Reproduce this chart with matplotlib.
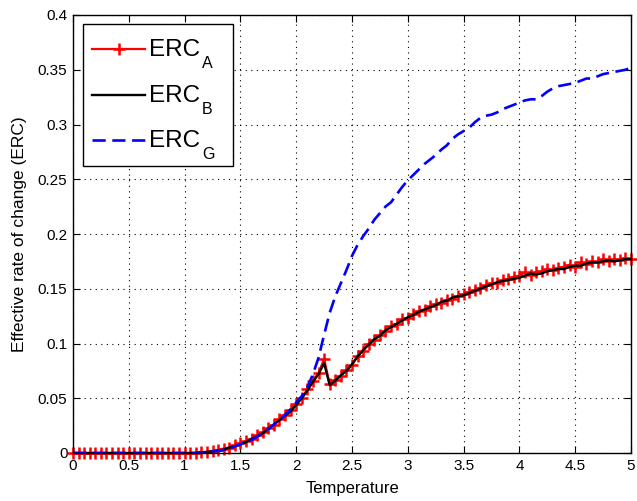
import numpy as np
import matplotlib
matplotlib.use("Agg")
import matplotlib.pyplot as plt
from matplotlib.lines import Line2D
from matplotlib.patches import Rectangle

plt.rcParams['font.family'] = ['Liberation Sans', 'DejaVu Sans']

# temperature grid, step 0.05 from 0 to 5
temperature = [round(0.05 * i, 2) for i in range(101)]

erc_a = [0.0] * 23 + [
    0.0005, 0.001, 0.0015, 0.003, 0.004, 0.005, 0.007, 0.009, 0.011, 0.013,
    0.016, 0.019, 0.023, 0.026, 0.031, 0.035, 0.039, 0.045, 0.050, 0.058,
    0.066, 0.073, 0.086, 0.063, 0.067, 0.070, 0.076, 0.080, 0.089, 0.093,
    0.100, 0.103, 0.108, 0.111, 0.116, 0.118, 0.122, 0.123, 0.127, 0.130,
    0.131, 0.134, 0.136, 0.137, 0.140, 0.141, 0.143, 0.145, 0.147, 0.149,
    0.151, 0.153, 0.155, 0.155, 0.158, 0.159, 0.161, 0.162, 0.165, 0.163,
    0.165, 0.166, 0.168, 0.167, 0.169, 0.170, 0.172, 0.170, 0.174, 0.173,
    0.175, 0.174, 0.177, 0.175, 0.177, 0.176, 0.178, 0.177,
]

erc_b = [0.0] * 23 + [
    0.0005, 0.001, 0.0015, 0.002, 0.003, 0.005, 0.006, 0.008, 0.010, 0.013,
    0.015, 0.018, 0.022, 0.026, 0.030, 0.034, 0.038, 0.044, 0.050, 0.057,
    0.065, 0.072, 0.082, 0.062, 0.066, 0.071, 0.075, 0.081, 0.088, 0.094,
    0.099, 0.104, 0.107, 0.112, 0.115, 0.118, 0.121, 0.124, 0.126, 0.129,
    0.131, 0.133, 0.135, 0.138, 0.139, 0.142, 0.143, 0.144, 0.146, 0.148,
    0.150, 0.152, 0.154, 0.156, 0.157, 0.158, 0.159, 0.160, 0.162, 0.164,
    0.163, 0.164, 0.166, 0.167, 0.168, 0.168, 0.170, 0.171, 0.171, 0.173,
    0.174, 0.174, 0.175, 0.176, 0.175, 0.176, 0.177, 0.177,
]

erc_g = [0.0] * 23 + [
    0.0005, 0.001, 0.0015, 0.002, 0.003, 0.004, 0.006, 0.008, 0.010, 0.012,
    0.015, 0.018, 0.022, 0.026, 0.030, 0.035, 0.040, 0.046, 0.052, 0.060,
    0.072, 0.087, 0.108, 0.128, 0.143, 0.155, 0.167, 0.180, 0.190, 0.198,
    0.205, 0.213, 0.219, 0.225, 0.229, 0.236, 0.243, 0.249, 0.254, 0.259,
    0.264, 0.268, 0.272, 0.277, 0.281, 0.287, 0.291, 0.294, 0.297, 0.302,
    0.306, 0.308, 0.309, 0.311, 0.314, 0.316, 0.318, 0.320, 0.322, 0.323,
    0.323, 0.326, 0.330, 0.333, 0.335, 0.336, 0.337, 0.338, 0.340, 0.342,
    0.342, 0.344, 0.346, 0.347, 0.348, 0.349, 0.350, 0.352,
]

subscripts = ['A', 'B', 'G']
x_ticks = [0, 0.5, 1, 1.5, 2, 2.5, 3, 3.5, 4, 4.5, 5]
y_ticks = [0, 0.05, 0.1, 0.15, 0.2, 0.25, 0.3, 0.35, 0.4]

W, H = 637, 501
fig = plt.figure(figsize=(W / 100, H / 100), dpi=100)
ax = fig.add_axes([73 / W, 1 - 453 / H, 558 / W, 438 / H])

styles = [
    dict(color='red', linewidth=1.6, marker='+', markersize=9,
         markeredgewidth=1.8),
    dict(color='black', linewidth=1.7),
    dict(color='blue', linewidth=1.9, linestyle='--', dashes=(5, 2.5)),
]

ax.plot(temperature, erc_a, clip_on=False, **styles[0])
ax.plot(temperature, erc_b, **styles[1])
ax.plot(temperature, erc_g, **styles[2])

ax.set_xlim(0, 5)
ax.set_ylim(0, 0.4)
ax.set_xticks(x_ticks)
ax.set_yticks(y_ticks)
ax.set_xticklabels(['%g' % t for t in x_ticks])
ax.set_yticklabels(['%g' % t for t in y_ticks])
ax.tick_params(direction='in', top=True, right=True, length=5,
               labelsize=11, pad=4)
ax.grid(True, color='black', linestyle=(0, (1, 4)), linewidth=0.8)
for s in ax.spines.values():
    s.set_linewidth(1.0)
    s.set_zorder(5)

ax.set_xlabel('Temperature', fontsize=12, labelpad=6)
ax.set_ylabel('Effective rate of change (ERC)', fontsize=12.5, labelpad=8)

# legend box drawn by hand so the subscripts can sit low, MATLAB style
def fx(px):
    return px / W

def fy(py):
    return 1 - py / H

fig.add_artist(Rectangle((fx(83), fy(166)), fx(233) - fx(83),
                         fy(24) - fy(166), transform=fig.transFigure,
                         facecolor='white', edgecolor='black',
                         linewidth=1.0, zorder=10))
row_y = [49, 95, 140]
for i, (yy, sub) in enumerate(zip(row_y, subscripts)):
    kw = dict(styles[i])
    handle = Line2D([fx(92), fx(118.5), fx(145)], [fy(yy)] * 3,
                    transform=fig.transFigure, zorder=11, **kw)
    if 'marker' in kw:
        handle.set_markevery([1])
    fig.add_artist(handle)
    fig.text(fx(149), fy(yy + 7), 'ERC', fontsize=17.5, va='baseline',
             ha='left', zorder=12)
    fig.text(fx(202), fy(yy + 7), sub, fontsize=11.5, va='top',
             ha='left', zorder=12)

fig.savefig('out.png', dpi=100)
